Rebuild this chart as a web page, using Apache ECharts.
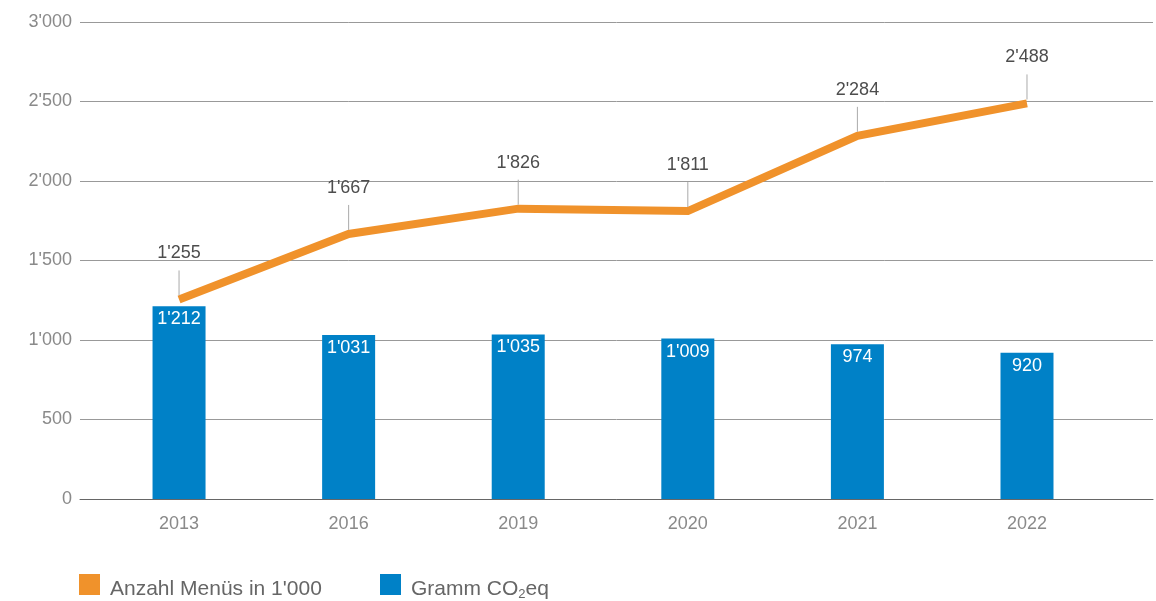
<!DOCTYPE html>
<html>
<head>
<meta charset="utf-8">
<script src="https://cdn.jsdelivr.net/npm/echarts@6/dist/echarts.min.js"></script>
<style>
  html, body { margin: 0; padding: 0; background: #fff; }
  #chart { width: 1156px; height: 601px; }
</style>
</head>
<body>
<div id="chart"></div>
<script>
// data
const years = ['2013', '2016', '2019', '2020', '2021', '2022']
const menus = [1255, 1667, 1826, 1811, 2284, 2488]   // Anzahl Menüs in 1'000
const grams = [1212, 1031, 1035, 1009, 974, 920]     // Gramm CO2eq
const yTicks = [0, 500, 1000, 1500, 2000, 2500, 3000]

const ORANGE = '#f0922b'
const BLUE = '#0081c7'
const FONT = 'Liberation Sans, Arial, sans-serif'

// 1'255 style
function fmt(v) {
  if (v < 1000) return String(v)
  const rest = String(v % 1000).padStart(3, '0')
  return Math.floor(v / 1000) + "'" + rest
}

const chart = echarts.init(document.getElementById('chart'))

const menuPoints = menus.map((v, i) => [i, v])
const gramPoints = grams.map((v, i) => [i, v])

// legend text sits low next to its square, like in the original
const legendRich = {
  t: { fontSize: 21, color: '#666', fontFamily: FONT, padding: [10, 0, 0, 5] },
  u: { fontSize: 21, color: '#666', fontFamily: FONT, padding: [10, 0, 0, 0] },
  sub: { fontSize: 13, color: '#666', fontFamily: FONT, padding: [20, 0, 0, 0] }
}

chart.setOption({
  backgroundColor: '#fff',
  animation: false,
  textStyle: { fontFamily: FONT },
  grid: { left: 80, right: 3, top: 22, bottom: 102 },
  legend: [
    {
      left: 79, top: 574, padding: 0,
      itemWidth: 21, itemHeight: 21,
      icon: 'rect',
      data: ['Anzahl Menüs in 1\'000'],
      formatter: name => '{t|' + name + '}',
      textStyle: { rich: legendRich }
    },
    {
      left: 380, top: 574, padding: 0,
      itemWidth: 21, itemHeight: 21,
      icon: 'rect',
      data: ['Gramm CO2eq'],
      formatter: () => '{t|Gramm CO}{sub|2}{u|eq}',
      textStyle: { rich: legendRich }
    }
  ],
  xAxis: {
    type: 'value',
    min: -0.584,
    max: 5.743,
    splitLine: { show: false },
    axisTick: { show: false },
    axisLine: { show: true, lineStyle: { color: '#666', width: 1 } },
    axisLabel: {
      customValues: years.map((y, i) => i),
      formatter: v => years[Math.round(v)],
      color: '#8a8a8a', fontSize: 18, fontFamily: FONT, margin: 16
    }
  },
  yAxis: {
    type: 'value',
    min: yTicks[0],
    max: yTicks[yTicks.length - 1],
    interval: 500,
    axisLine: { show: false },
    axisTick: { show: false },
    splitLine: { lineStyle: { color: '#999', width: 1 } },
    axisLabel: {
      formatter: v => fmt(v),
      color: '#8a8a8a', fontSize: 18, fontFamily: FONT, margin: 8
    }
  },
  series: [
    {
      name: 'Gramm CO2eq',
      type: 'bar',
      data: gramPoints,
      barWidth: 53,
      itemStyle: { color: BLUE },
      label: {
        show: true,
        position: 'insideTop',
        distance: 4,
        formatter: p => fmt(p.value[1]),
        color: '#fff', fontSize: 18, fontFamily: FONT
      },
      z: 2
    },
    {
      name: 'Anzahl Menüs in 1\'000',
      type: 'line',
      data: menuPoints,
      symbol: 'none',
      lineStyle: { color: ORANGE, width: 8, cap: 'butt', join: 'miter' },
      itemStyle: { color: ORANGE },
      z: 4
    },
    {
      // leader lines and value labels above the orange line
      type: 'custom',
      data: menuPoints,
      z: 5,
      silent: true,
      renderItem: (params, api) => {
        const p = api.coord([api.value(0), api.value(1)])
        return {
          type: 'group',
          children: [
            {
              type: 'line',
              shape: { x1: p[0], y1: p[1] - 4, x2: p[0], y2: p[1] - 29 },
              style: { stroke: '#aaa', lineWidth: 1 }
            },
            {
              type: 'text',
              x: p[0], y: p[1] - 46,
              style: {
                text: fmt(api.value(1)),
                fill: '#4d4d4d',
                font: '18px ' + FONT,
                align: 'center',
                verticalAlign: 'middle'
              }
            }
          ]
        }
      }
    }
  ]
})
</script>
</body>
</html>
